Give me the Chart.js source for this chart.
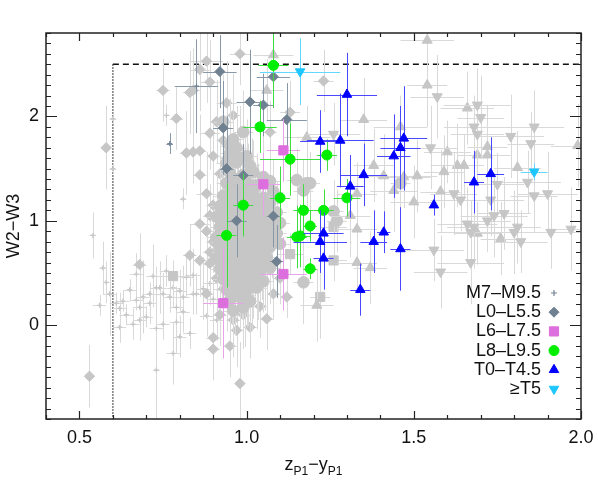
<!DOCTYPE html>
<html lang="en">
<head>
<meta charset="UTF-8">
<title>W2-W3 vs z-y</title>
<script src="https://cdn.jsdelivr.net/npm/chart.js"></script>
<style>
  body { margin: 0; background: #fff; }
  .chart-box { width: 598px; height: 485px; }
</style>
</head>
<body>
<div class="chart-box"><canvas id="colorChart" width="598" height="485"></canvas></div>
<script>
// ---- axes ----
const xMin = 0.4, xMax = 2.0, yMin = -0.9, yMax = 2.8;
const xMajor = [0.5, 1.0, 1.5, 2.0];
const xTickLabels = ['0.5', '1.0', '1.5', '2.0'];
const yMajor = [0, 1, 2];
const yTickLabels = ['0', '1', '2'];
const cutY = 2.5;   // dashed line
const cutX = 0.6;   // dotted line

// ---- gray background sample ----
// M7-M9.5 (gray plus)
const gPlusX  = [0.54,0.57,0.58,0.56,0.59,0.60,0.60,0.61,0.62,0.63,0.64,0.62,0.65,0.66,0.67,0.67,0.68,0.68,0.69,0.70,0.71,0.71,0.72,0.73,0.73,0.74,0.75,0.75,0.76,0.77,0.78,0.78,0.79,0.79,0.80,0.80,0.81,0.81,0.82,0.83,0.84,0.84,0.85,0.87,0.88,0.73,0.81,0.76,0.90,0.91,0.89,0.92];
const gPlusY  = [0.86,0.55,0.41,0.19,0.30,1.98,1.50,0.21,0.16,0.23,0.10,-0.02,0.34,0.01,0.49,0.24,0.17,0.05,0.27,0.08,0.21,0.30,0.47,0.36,-0.03,0.36,0.01,0.30,0.52,0.27,-0.27,0.36,0.17,0.03,-0.11,0.33,0.27,0.13,0.46,-0.08,0.30,0.48,0.30,0.35,0.09,-0.43,1.21,2.01,0.25,0.05,0.40,0.35];
const gPlusXe = [0.01,0.01,0.01,0.02,0.02,0.01,0.01,0.02,0.02,0.02,0.02,0.02,0.02,0.02,0.02,0.02,0.02,0.02,0.02,0.02,0.02,0.02,0.02,0.02,0.02,0.02,0.02,0.02,0.02,0.02,0.02,0.02,0.02,0.02,0.02,0.02,0.02,0.02,0.02,0.02,0.02,0.02,0.02,0.02,0.02,0.01,0.01,0.01,0.02,0.02,0.02,0.02];
const gPlusYe = [0.22,0.25,0.20,0.10,0.40,0.05,0.05,0.10,0.15,0.10,0.10,0.15,0.10,0.15,0.20,0.10,0.30,0.20,0.35,0.10,0.20,0.10,0.30,0.20,0.40,0.25,0.15,0.20,0.15,0.15,0.30,0.20,0.20,0.30,0.20,0.20,0.30,0.20,0.20,0.15,0.20,0.25,0.20,0.30,0.20,0.50,0.10,0.10,0.20,0.20,0.20,0.20];

// L0-L5.5 (gray diamond)
const gDiaX  = [0.58,0.75,0.79,0.83,0.82,0.84,0.86,0.90,0.86,0.89,0.89,0.86,0.88,0.88,0.86,0.83,0.86,0.89,0.68,0.90,0.90,0.53,0.98,0.95,1.01,1.06,0.97,1.12,0.98,1.23,0.94,0.96,0.91,0.84,0.93,1.13,1.07,0.90,0.89,0.91,0.88,0.92,1.08,1.04,0.99,0.96,1.10,0.92,0.94,0.97,0.89,0.88,0.90];
const gDiaY  = [1.70,2.25,1.98,2.23,1.65,1.66,1.67,1.62,1.44,1.84,2.33,2.45,2.53,1.26,0.97,0.67,0.62,0.59,0.58,-0.12,-0.23,-0.49,-0.56,-0.20,-0.02,0.06,-0.05,0.27,2.60,2.34,2.13,2.01,1.95,2.25,1.77,2.04,1.85,0.80,1.05,0.45,0.30,0.10,0.30,0.18,0.10,0.05,0.45,1.45,1.60,1.70,0.70,0.90,1.15];
const gDiaXe = [0.01,0.02,0.02,0.02,0.02,0.02,0.02,0.02,0.02,0.03,0.03,0.03,0.05,0.03,0.03,0.02,0.02,0.02,0.02,0.02,0.02,0.01,0.01,0.02,0.02,0.02,0.02,0.02,0.03,0.03,0.03,0.02,0.02,0.02,0.02,0.03,0.02,0.02,0.02,0.02,0.02,0.02,0.02,0.02,0.02,0.02,0.02,0.02,0.02,0.02,0.02,0.02,0.02];
const gDiaYe = [0.40,0.30,0.30,0.40,0.40,0.30,0.35,0.30,0.30,0.35,0.40,0.40,0.40,0.40,0.30,0.30,0.35,0.40,0.30,0.30,0.30,0.30,0.40,0.30,0.30,0.30,0.35,0.20,0.30,0.30,0.40,0.40,0.40,0.40,0.40,0.30,0.30,0.30,0.30,0.30,0.30,0.30,0.25,0.30,0.30,0.30,0.25,0.35,0.35,0.35,0.30,0.35,0.40];

// L6-L7.5 (gray square)
const gSqX  = [1.26,1.26,1.22,1.13,0.78];
const gSqY  = [0.62,0.94,0.27,0.68,0.47];
const gSqXe = [0.04,0.04,0.03,0.04,0.05];
const gSqYe = [0.20,0.25,0.40,0.20,0.15];

// L8-L9.5 (gray circle), most of them in the dense clump
const gCircX  = [0.97,1.01,0.95,0.99,1.02,1.05,0.94,0.97,1.00,1.03,1.07,0.93,0.96,0.99,1.02,1.05,1.08,0.92,0.95,0.98,1.01,1.04,1.07,0.91,0.94,0.97,1.00,1.03,1.06,1.09,0.92,0.95,0.98,1.01,1.04,1.07,1.10,0.91,0.94,0.97,1.00,1.03,1.06,1.09,0.92,0.95,0.98,1.01,1.04,1.07,1.10,0.91,0.94,0.97,1.00,1.03,1.06,0.92,0.95,0.98,1.01,1.04,1.07,0.93,0.96,0.99,1.02,1.05,0.94,0.97,1.00,1.03,0.95,0.98,1.01,0.96,0.99,0.95,0.97,1.00,0.96,1.19,1.17,1.26,1.27,1.46,1.17,1.15,1.18,
                 0.935,0.965,0.995,1.025,1.055,0.925,0.955,0.985,1.015,1.045,1.075,0.925,0.955,0.985,1.015,1.045,1.075,0.925,0.955,0.985,1.015,1.045,1.075,0.925,0.955,0.985,1.015,1.045,0.935,0.965,0.995,1.025,1.055,0.945,0.975,1.005,1.035,0.955,0.985,1.015,0.965,0.995,0.945,0.975,1.005,1.035,0.955,0.985,1.015,0.965,0.995,0.94,0.98,0.95,0.99,0.93];
const gCircY  = [1.56,1.53,1.46,1.44,1.47,1.42,1.36,1.33,1.37,1.34,1.38,1.24,1.27,1.23,1.26,1.22,1.28,1.14,1.17,1.12,1.16,1.13,1.17,1.04,1.07,1.03,1.06,1.02,1.05,1.08,0.94,0.97,0.93,0.96,0.92,0.95,0.98,0.84,0.87,0.83,0.86,0.82,0.85,0.88,0.74,0.77,0.73,0.76,0.72,0.75,0.78,0.64,0.67,0.63,0.66,0.62,0.65,0.54,0.57,0.53,0.56,0.52,0.55,0.44,0.47,0.43,0.46,0.42,0.34,0.37,0.33,0.36,0.24,0.27,0.23,0.14,0.17,1.65,1.70,1.62,1.78,1.36,1.29,1.09,1.00,1.36,0.41,1.39,1.36,
                 1.10,1.10,1.09,1.10,1.09,1.00,1.00,0.99,1.00,0.99,1.00,0.90,0.90,0.89,0.90,0.89,0.90,0.80,0.80,0.79,0.80,0.79,0.80,0.70,0.70,0.69,0.70,0.69,0.60,0.60,0.59,0.60,0.59,0.50,0.50,0.49,0.50,0.40,0.40,0.39,0.30,0.29,1.20,1.20,1.19,1.20,1.30,1.30,1.29,1.40,1.40,1.55,1.60,1.72,1.85,1.95];
const gCircXe = gCircX.map(() => 0.03);
const gCircYe = [0.30,0.40,0.30,0.35,0.30,0.40,0.30,0.40,0.35,0.30,0.40,0.30,0.35,0.40,0.30,0.35,0.30,0.40,0.30,0.35,0.40,0.30,0.35,0.40,0.30,0.35,0.40,0.30,0.35,0.30,0.40,0.30,0.35,0.40,0.30,0.35,0.30,0.40,0.30,0.35,0.40,0.30,0.35,0.30,0.40,0.30,0.35,0.40,0.30,0.35,0.30,0.40,0.30,0.35,0.40,0.30,0.35,0.40,0.30,0.35,0.40,0.30,0.35,0.40,0.30,0.35,0.40,0.30,0.40,0.30,0.35,0.40,0.40,0.30,0.35,0.45,0.40,0.35,0.40,0.35,0.40,0.30,0.30,0.30,0.30,0.30,0.40,0.30,0.30,
                 0.45,0.35,0.50,0.40,0.35,0.45,0.40,0.55,0.35,0.45,0.40,0.50,0.35,0.45,0.40,0.35,0.45,0.40,0.50,0.35,0.45,0.40,0.35,0.45,0.50,0.40,0.35,0.45,0.40,0.35,0.50,0.40,0.45,0.35,0.40,0.50,0.45,0.40,0.35,0.45,0.40,0.50,0.45,0.40,0.55,0.35,0.45,0.40,0.50,0.45,0.40,0.45,0.50,0.45,0.40,0.45];

// T0-T4.5 (gray up triangle)
const gUpX  = [1.54,1.66,1.72,1.60,1.59,1.63,1.65,1.81,1.58,1.69,1.76,1.99,1.69,1.72,1.35,1.46,1.38,1.41,1.47,1.51,1.44,1.33,1.50,1.33,1.33,1.37,1.31,1.18,1.21,1.54,1.08,1.06];
const gUpY  = [2.30,2.08,1.71,1.66,1.47,1.53,1.53,1.51,1.28,0.88,0.83,1.72,1.63,1.63,1.97,1.90,1.53,1.43,1.42,1.43,1.29,1.26,1.18,0.92,0.60,0.55,1.05,1.80,0.19,2.73,2.59,2.25];
const gUpXe = [0.06,0.08,0.06,0.07,0.06,0.08,0.06,0.07,0.06,0.07,0.06,0.08,0.06,0.07,0.07,0.08,0.06,0.07,0.08,0.06,0.07,0.06,0.07,0.06,0.06,0.05,0.06,0.07,0.05,0.08,0.06,0.05];
const gUpYe = [0.40,0.35,0.40,0.30,0.35,0.40,0.30,0.35,0.40,0.30,0.35,0.40,0.30,0.35,0.40,0.30,0.35,0.40,0.30,0.35,0.40,0.30,0.35,0.40,0.30,0.35,0.40,0.30,0.35,0.30,0.30,0.30];

// >=T5 (gray down triangle)
const gDnX  = [1.57,1.69,1.70,1.68,1.69,1.79,1.85,1.86,1.55,1.84,1.86,1.90,1.75,1.73,1.62,1.64,1.77,1.74,1.72,1.66,1.68,1.67,1.81,1.80,1.82,1.91,1.97,1.56,1.58,1.67,1.26];
const gDnY  = [2.19,2.11,1.99,1.90,1.83,1.81,1.74,1.90,1.70,1.37,1.24,1.26,1.35,1.20,1.26,1.20,1.07,1.05,1.00,0.97,0.94,0.89,0.94,0.89,0.80,0.89,0.92,0.72,0.51,0.60,1.83];
const gDnXe = [0.08,0.10,0.07,0.09,0.08,0.10,0.07,0.09,0.08,0.10,0.07,0.09,0.08,0.10,0.07,0.09,0.08,0.10,0.07,0.09,0.08,0.10,0.07,0.09,0.08,0.10,0.07,0.09,0.08,0.10,0.08];
const gDnYe = [0.40,0.35,0.40,0.30,0.35,0.40,0.30,0.35,0.40,0.30,0.35,0.40,0.30,0.35,0.40,0.30,0.35,0.40,0.30,0.35,0.40,0.30,0.35,0.40,0.30,0.35,0.40,0.30,0.35,0.40,0.30];

// ---- highlighted sample ----
const mX  = [0.77, 0.85];
const mY  = [1.74, 2.29];
const mXe = [0.01, 0.065];
const mYe = [0.10, 0.45];

const lX  = [0.92,1.08,1.01,1.05,1.12,0.93,0.94,0.99,1.08,0.97,1.09];
const lY  = [2.43,2.38,2.14,2.11,1.97,1.89,1.50,1.435,1.045,1.00,0.61];
const lXe = [0.05,0.05,0.04,0.03,0.06,0.03,0.02,0.03,0.02,0.03,0.02];
const lYe = [0.35,0.30,0.50,0.30,0.35,0.45,0.50,0.30,0.30,0.35,0.35];

const l6X  = [1.11,1.05,1.11,0.93];
const l6Y  = [1.675,1.35,0.49,0.21];
const l6Xe = [0.05,0.05,0.07,0.06];
const l6Ye = [0.30,0.30,0.35,0.53];

const l8X  = [1.08,1.04,1.13,1.24,1.10,0.99,1.17,1.23,1.19,0.94,1.15,1.16,1.19,1.30];
const l8Y  = [2.49,1.90,1.59,1.63,1.22,1.15,1.10,1.10,0.95,0.86,0.845,0.855,0.54,1.22];
const l8Xe = [0.045,0.05,0.09,0.03,0.03,0.03,0.03,0.03,0.02,0.03,0.03,0.03,0.02,0.04];
const l8Ye = [0.40,0.25,0.35,0.15,0.30,0.30,0.25,0.20,0.15,0.50,0.30,0.30,0.10,0.18];

const tX  = [1.30,1.22,1.28,1.47,1.46,1.44,1.35,1.31,1.56,1.41,1.38,1.46,1.34,1.23,1.22,1.23,1.68,1.73];
const tY  = [2.21,1.76,1.77,1.79,1.70,1.62,1.44,1.33,1.15,0.89,0.80,0.73,0.34,0.88,0.80,0.64,1.37,1.45];
const tXe = [0.09,0.06,0.10,0.07,0.06,0.05,0.07,0.04,0.01,0.02,0.04,0.03,0.03,0.06,0.08,0.03,0.03,0.04];
const tYe = [0.40,0.30,0.45,0.50,0.40,0.40,0.30,0.30,0.10,0.20,0.30,0.40,0.25,0.20,0.30,0.30,0.30,0.35];

const t5X  = [1.16, 1.86];
const t5Y  = [2.43, 1.47];
const t5Xe = [0.12, 0.04];
const t5Ye = [0.32, 0.08];

const legendLabels = ['M7\u2013M9.5', 'L0\u2013L5.5', 'L6\u2013L7.5', 'L8\u2013L9.5', 'T0\u2013T4.5', '\u2265T5'];

// ---- build datasets ----
function pts(xs, ys) {
    return xs.map((x, i) => ({ x: x, y: ys[i] }));
}

const GRAY = '#c6c6c6', GRAY_ERR = '#d9d9d9';

function series(label, xs, ys, xe, ye, style, radius, fill, err, order, legend, rotation) {
    return {
        label: label,
        data: pts(xs, ys),
        xErr: xe,
        yErr: ye,
        errColor: err,
        inLegend: legend,
        pointStyle: style,
        pointRadius: radius,
        pointRotation: rotation || 0,
        backgroundColor: fill,
        borderColor: fill,
        borderWidth: style === 'cross' ? 1.2 : 1,
        order: order
    };
}

const datasets = [
    series('gM', gPlusX, gPlusY, gPlusXe, gPlusYe, 'cross', 2.5, GRAY, GRAY_ERR, 20, false),
    series('gL', gDiaX, gDiaY, gDiaXe, gDiaYe, 'rectRot', 5.2, GRAY, GRAY_ERR, 19, false),
    series('gL6', gSqX, gSqY, gSqXe, gSqYe, 'rect', 6.5, GRAY, GRAY_ERR, 18, false),
    series('gL8', gCircX, gCircY, gCircXe, gCircYe, 'circle', 5.8, GRAY, GRAY_ERR, 17, false),
    series('gT', gUpX, gUpY, gUpXe, gUpYe, 'triangle', 5.8, GRAY, GRAY_ERR, 16, false),
    series('gT5', gDnX, gDnY, gDnXe, gDnYe, 'triangle', 5.8, GRAY, GRAY_ERR, 15, false, 180),
    series(legendLabels[0], mX, mY, mXe, mYe, 'cross', 2.5, '#708294', '#8a9aab', 6, true),
    series(legendLabels[1], lX, lY, lXe, lYe, 'rectRot', 5, '#6f8090', '#8797a6', 5, true),
    series(legendLabels[2], l6X, l6Y, l6Xe, l6Ye, 'rect', 6.5, '#dd6edd', '#e8a2e8', 4, true),
    series(legendLabels[3], l8X, l8Y, l8Xe, l8Ye, 'circle', 5, '#00ee00', '#3fdd3f', 3, true),
    series(legendLabels[4], tX, tY, tXe, tYe, 'triangle', 5.5, '#0000ff', '#4848ff', 2, true),
    series(legendLabels[5], t5X, t5Y, t5Xe, t5Ye, 'triangle', 5.5, '#1ec6ff', '#62d8ff', 1, true, 180)
];

const FONT = '"Liberation Sans", Arial, sans-serif';
const INK = '#222';

// error bars, reference lines, frame, ticks, titles, legend
const decorPlugin = {
    id: 'decor',
    beforeDatasetsDraw(chart) {
        const ctx = chart.ctx, x = chart.scales.x, y = chart.scales.y;
        ctx.save();
        ctx.strokeStyle = '#111';
        ctx.lineWidth = 1.6;
        ctx.setLineDash([6, 4]);
        ctx.beginPath();
        ctx.moveTo(x.getPixelForValue(cutX), y.getPixelForValue(cutY));
        ctx.lineTo(x.getPixelForValue(xMax), y.getPixelForValue(cutY));
        ctx.stroke();
        ctx.strokeStyle = '#444';
        ctx.lineWidth = 1.4;
        ctx.setLineDash([1.5, 1.5]);
        ctx.beginPath();
        ctx.moveTo(x.getPixelForValue(cutX), y.getPixelForValue(cutY));
        ctx.lineTo(x.getPixelForValue(cutX), y.getPixelForValue(yMin));
        ctx.stroke();
        ctx.restore();
    },
    beforeDatasetDraw(chart, args) {
        const ds = chart.data.datasets[args.index];
        const ctx = chart.ctx, x = chart.scales.x, y = chart.scales.y, a = chart.chartArea;
        ctx.save();
        ctx.beginPath();
        ctx.rect(a.left, a.top, a.right - a.left, a.bottom - a.top);
        ctx.clip();
        ctx.strokeStyle = ds.errColor;
        ctx.lineWidth = 1;
        ctx.beginPath();
        ds.data.forEach((p, i) => {
            const px = Math.round(x.getPixelForValue(p.x)) + 0.5;
            const py = Math.round(y.getPixelForValue(p.y)) + 0.5;
            ctx.moveTo(x.getPixelForValue(p.x - ds.xErr[i]), py);
            ctx.lineTo(x.getPixelForValue(p.x + ds.xErr[i]), py);
            ctx.moveTo(px, y.getPixelForValue(p.y - ds.yErr[i]));
            ctx.lineTo(px, y.getPixelForValue(p.y + ds.yErr[i]));
        });
        ctx.stroke();
        ctx.restore();
    },
    afterDraw(chart) {
        const ctx = chart.ctx, x = chart.scales.x, y = chart.scales.y, a = chart.chartArea;
        ctx.save();
        ctx.strokeStyle = INK;
        ctx.lineWidth = 1.5;
        ctx.strokeRect(a.left, a.top, a.right - a.left, a.bottom - a.top);

        ctx.lineWidth = 1.2;
        ctx.beginPath();
        for (let k = 0; k <= Math.round((xMax - xMin) * 10); k++) {
            const v = xMin + k / 10;
            const major = xMajor.some(m => Math.abs(m - v) < 1e-6);
            const len = major ? 8 : 4;
            const px = Math.round(x.getPixelForValue(v)) + 0.5;
            ctx.moveTo(px, a.bottom); ctx.lineTo(px, a.bottom - len);
            ctx.moveTo(px, a.top); ctx.lineTo(px, a.top + len);
        }
        for (let k = 0; k <= Math.round((yMax - yMin) * 10); k++) {
            const v = yMin + k / 10;
            const major = yMajor.some(m => Math.abs(m - v) < 1e-6);
            const len = major ? 11 : 5;
            const py = Math.round(y.getPixelForValue(v)) + 0.5;
            ctx.moveTo(a.left, py); ctx.lineTo(a.left + len, py);
            ctx.moveTo(a.right, py); ctx.lineTo(a.right - len, py);
        }
        ctx.stroke();

        ctx.fillStyle = '#111';
        ctx.font = '18px ' + FONT;
        ctx.textAlign = 'center';
        ctx.textBaseline = 'middle';
        xMajor.forEach((v, i) => ctx.fillText(xTickLabels[i], x.getPixelForValue(v), a.bottom + 19));
        ctx.textAlign = 'right';
        yMajor.forEach((v, i) => ctx.fillText(yTickLabels[i], a.left - 7, y.getPixelForValue(v)));

        // x title with subscripts
        const parts = [['z', 18, 0], ['P1', 12, 5], ['\u2212', 18, 0], ['y', 18, 0], ['P1', 12, 5]];
        let total = 0;
        parts.forEach(p => { ctx.font = p[1] + 'px ' + FONT; total += ctx.measureText(p[0]).width; });
        let cx = (a.left + a.right) / 2 - total / 2;
        ctx.textAlign = 'left';
        ctx.textBaseline = 'alphabetic';
        parts.forEach(p => {
            ctx.font = p[1] + 'px ' + FONT;
            ctx.fillText(p[0], cx, 470 + p[2]);
            cx += ctx.measureText(p[0]).width;
        });

        // y title
        ctx.save();
        ctx.translate(14, (a.top + a.bottom) / 2);
        ctx.rotate(-Math.PI / 2);
        ctx.font = '18px ' + FONT;
        ctx.textAlign = 'center';
        ctx.textBaseline = 'middle';
        ctx.fillText('W2\u2212W3', 0, 0);
        ctx.restore();

        // legend
        const items = chart.data.datasets.filter(d => d.inLegend);
        ctx.font = '18px ' + FONT;
        ctx.textAlign = 'right';
        ctx.textBaseline = 'middle';
        items.forEach((d, i) => {
            const ly = 293 + i * 19.2;
            ctx.fillStyle = '#111';
            ctx.fillText(d.label, 541, ly);
            ctx.fillStyle = d.backgroundColor;
            ctx.strokeStyle = d.borderColor;
            ctx.lineWidth = d.borderWidth;
            Chart.helpers.drawPoint(ctx, {
                pointStyle: d.pointStyle,
                rotation: d.pointRotation,
                radius: d.pointRadius + (d.pointStyle === 'cross' ? 0.5 : 0),
                borderWidth: d.borderWidth
            }, 554, ly);
        });
        ctx.restore();
    }
};

new Chart(document.getElementById('colorChart').getContext('2d'), {
    type: 'scatter',
    data: { datasets: datasets },
    options: {
        responsive: false,
        animation: false,
        events: [],
        devicePixelRatio: 1,
        layout: { padding: { left: 46, right: 17, top: 33, bottom: 66 } },
        scales: {
            x: { type: 'linear', min: xMin, max: xMax, display: false },
            y: { type: 'linear', min: yMin, max: yMax, display: false }
        },
        plugins: {
            legend: { display: false },
            tooltip: { enabled: false },
            title: { display: false }
        }
    },
    plugins: [decorPlugin]
});
</script>
</body>
</html>
